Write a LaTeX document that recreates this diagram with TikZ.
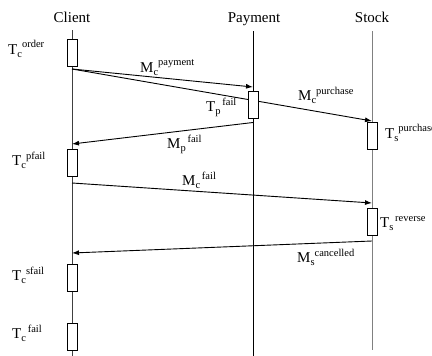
\documentclass[tikz,border=0pt]{standalone}
\usepackage{fontspec}
\setmainfont{Liberation Serif}
\usetikzlibrary{arrows.meta}
\newcommand\seqlbl[3]{#1\raisebox{-3.5pt}{\fontsize{10.5}{10.5}\selectfont #2}\raisebox{6pt}{\fontsize{10.5}{10.5}\selectfont #3}}
\begin{document}
\begin{tikzpicture}[x=1pt,y=-1pt, font=\fontsize{15}{15}\selectfont,
 life/.style={line width=0.8pt},
 act/.style={draw, fill=white, minimum width=10pt, minimum height=27pt, inner sep=0pt, line width=0.7pt},
 msg/.style={line width=0.9pt, -{Latex[length=7pt,width=5pt]}},
 txt/.style={anchor=base west, inner sep=0pt},
 ttl/.style={anchor=base, inner sep=0pt}]
\useasboundingbox (0,0) rectangle (432,356);
% titles
\node[ttl] (tclient) at (72,23) {Client};
\node[ttl] (tpay) at (254,23) {Payment};
\node[ttl] (tstock) at (372,23) {Stock};
% lifelines
\coordinate (ctop) at (72,30); \coordinate (cbot) at (72,356);
\coordinate (ptop) at (253,31); \coordinate (pbot) at (253,356);
\coordinate (stop) at (372,31); \coordinate (sbot) at (372,350);
\draw[life, black!75] (ctop) -- (cbot);
\draw[life, black] (ptop) -- (pbot);
\draw[life, black!50] (stop) -- (sbot);
% message endpoints
\coordinate (m1s) at (72,69);
\coordinate (m1e) at (253,87);
\coordinate (m2e) at (372,121);
\coordinate (m3s) at (253,122.5);
\coordinate (m3e) at (72,144);
\coordinate (m4s) at (72,183);
\coordinate (m4e) at (372,203);
\coordinate (m5s) at (372,241);
\coordinate (m5e) at (72,253);
\draw[msg] (m1s) -- (m1e);
\draw[msg] (m1s) -- (m2e);
\draw[msg] (m3s) -- (m3e);
\draw[msg] (m4s) -- (m4e);
\draw[msg] (m5s) -- (m5e);
% activation boxes
\node[act] (corder) at (72,52.5) {};
\node[act] (cpfail) at (72,162.5) {};
\node[act] (csfail) at (72,277.5) {};
\node[act] (cfail) at (72,336.5) {};
\node[act] (pfail) at (253,104.5) {};
\node[act] (spurch) at (372,135.5) {};
\node[act] (srev) at (372,221.5) {};
% labels
\node[txt] (lcorder) at (8,54) {\seqlbl{T}{c}{order}};
\node[txt] (lmpay) at (140,72) {\seqlbl{M}{c}{payment}};
\node[txt] (ltpfail) at (206,111) {\seqlbl{T}{p}{\,fail}};
\node[txt] (lmpurch) at (298,100) {\seqlbl{M}{c}{purchase}};
\node[txt] (lmpfail) at (167,148) {\seqlbl{M}{p}{\,fail}};
\node[txt] (lcpfail) at (12,165) {\seqlbl{T}{c}{pfail}};
\node[txt] (lmcfail) at (182,185) {\seqlbl{M}{c}{\,fail}};
\node[txt] (ltspurch) at (385,138) {\seqlbl{T}{s}{purchase}};
\node[txt] (ltsrev) at (380,227) {\seqlbl{T}{s}{\,reverse}};
\node[txt] (lmscanc) at (297,262) {\seqlbl{M}{s}{cancelled}};
\node[txt] (lcsfail) at (12,280) {\seqlbl{T}{c}{sfail}};
\node[txt] (lcfail) at (12,338) {\seqlbl{T}{c}{\,fail}};
\end{tikzpicture}
\end{document}
